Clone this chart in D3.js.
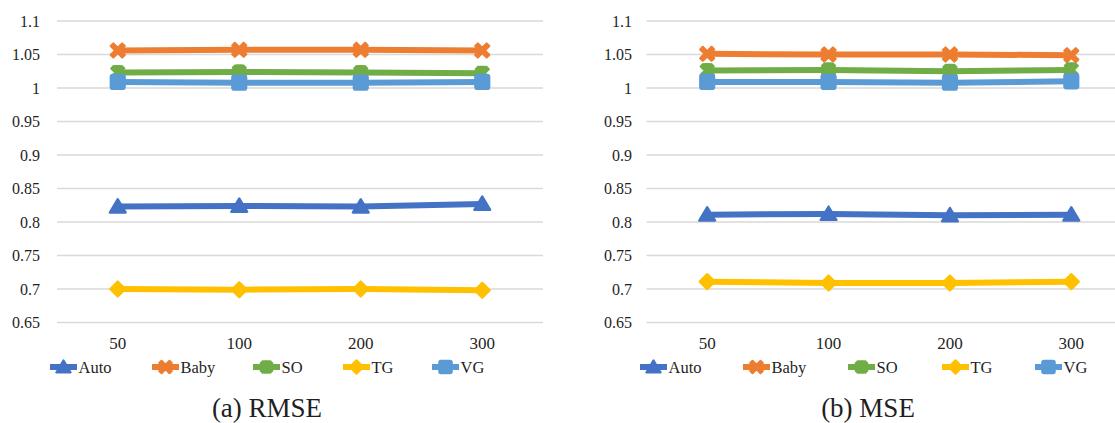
<!DOCTYPE html>
<html>
<head>
<meta charset="utf-8">
<script src="https://cdn.jsdelivr.net/npm/d3@7/dist/d3.min.js"></script>
<style>
  html, body { margin: 0; padding: 0; background: #fff; }
  svg { display: block; }
  text { font-family: "Liberation Serif", "Times New Roman", serif; fill: #1f1f1f; }
</style>
</head>
<body>
<svg id="chart" width="1115" height="423"></svg>
<script>
// Data
const categories = ["50", "100", "200", "300"];
const seriesNames = ["Auto", "Baby", "SO", "TG", "VG"];
const seriesColors = ["#4472C4", "#ED7D31", "#70AD47", "#FFC000", "#5B9BD5"];
const seriesMarkers = ["triangle", "x", "star", "diamond", "square"];
const yTicks = [0.65, 0.7, 0.75, 0.8, 0.85, 0.9, 0.95, 1, 1.05, 1.1];
const yTickLabels = ["0.65", "0.7", "0.75", "0.8", "0.85", "0.9", "0.95", "1", "1.05", "1.1"];

// RMSE per series across the four settings
const rmseAuto = [0.823, 0.824, 0.823, 0.827];
const rmseBaby = [1.056, 1.057, 1.057, 1.056];
const rmseSO   = [1.023, 1.024, 1.023, 1.022];
const rmseTG   = [0.700, 0.699, 0.700, 0.698];
const rmseVG   = [1.009, 1.008, 1.008, 1.009];

// MSE per series across the four settings
const mseAuto = [0.811, 0.812, 0.810, 0.811];
const mseBaby = [1.051, 1.050, 1.050, 1.049];
const mseSO   = [1.026, 1.027, 1.025, 1.027];
const mseTG   = [0.711, 0.709, 0.709, 0.711];
const mseVG   = [1.009, 1.009, 1.008, 1.010];

const panels = [
  { values: [rmseAuto, rmseBaby, rmseSO, rmseTG, rmseVG], caption: "(a) RMSE",
    left: 57, right: 543, labelX: 40, legendX: [50, 152, 253, 343, 432], captionX: 267 },
  { values: [mseAuto, mseBaby, mseSO, mseTG, mseVG], caption: "(b) MSE",
    left: 646.5, right: 1132, labelX: 632, legendX: [640, 743, 848, 942, 1035], captionX: 868 }
];

const svg = d3.select("#chart");
const yTop = 21, yBottom = 322.5;

// Marker outlines, centred on the origin, scaled by s
function markerPath(type, s) {
  const p = d3.path();
  if (type === "triangle") {
    p.moveTo(0, -7.5 * s); p.lineTo(8 * s, 6 * s); p.lineTo(-8 * s, 6 * s); p.closePath();
  } else if (type === "diamond") {
    p.moveTo(0, -7.5 * s); p.lineTo(7.5 * s, 0); p.lineTo(0, 7.5 * s); p.lineTo(-7.5 * s, 0); p.closePath();
  } else if (type === "square") {
    const h = 7 * s, r = 2 * s;
    p.moveTo(-h + r, -h); p.lineTo(h - r, -h); p.quadraticCurveTo(h, -h, h, -h + r);
    p.lineTo(h, h - r); p.quadraticCurveTo(h, h, h - r, h);
    p.lineTo(-h + r, h); p.quadraticCurveTo(-h, h, -h, h - r);
    p.lineTo(-h, -h + r); p.quadraticCurveTo(-h, -h, -h + r, -h); p.closePath();
  } else if (type === "x") {
    const a = 7 * s, w = 2.6 * s;
    p.moveTo(-a, -a + w); p.lineTo(-a + w, -a); p.lineTo(0, -w); p.lineTo(a - w, -a); p.lineTo(a, -a + w);
    p.lineTo(w, 0); p.lineTo(a, a - w); p.lineTo(a - w, a); p.lineTo(0, w); p.lineTo(-a + w, a);
    p.lineTo(-a, a - w); p.lineTo(-w, 0); p.closePath();
  } else if (type === "star") {
    const a = 6.5 * s, w = 2.4 * s;
    p.moveTo(-a, -a + w); p.lineTo(-a + w, -a); p.lineTo(0, -w); p.lineTo(a - w, -a); p.lineTo(a, -a + w);
    p.lineTo(w, 0); p.lineTo(a, a - w); p.lineTo(a - w, a); p.lineTo(0, w); p.lineTo(-a + w, a);
    p.lineTo(-a, a - w); p.lineTo(-w, 0); p.closePath();
    p.moveTo(-w, -a); p.lineTo(w, -a); p.lineTo(w, a); p.lineTo(-w, a); p.closePath();
  }
  return p.toString();
}

panels.forEach(panel => {
  const g = svg.append("g");
  const x = d3.scalePoint().domain(categories).range([panel.left, panel.right]).padding(0.5);
  const y = d3.scaleLinear().domain([0.65, 1.1]).range([yBottom, yTop]);

  // Horizontal gridlines
  g.append("g").selectAll("line").data(yTicks).join("line")
    .attr("x1", panel.left).attr("x2", panel.right)
    .attr("y1", d => y(d)).attr("y2", d => y(d))
    .attr("stroke", "#D9D9D9").attr("stroke-width", 1.3);

  // Y tick labels
  g.append("g").selectAll("text").data(yTicks).join("text")
    .attr("x", panel.labelX).attr("y", d => y(d) + 5.5)
    .attr("text-anchor", "end").attr("font-size", 16)
    .text((d, i) => yTickLabels[i]);

  // X tick labels
  g.append("g").selectAll("text").data(categories).join("text")
    .attr("x", d => x(d)).attr("y", 348.5)
    .attr("text-anchor", "middle").attr("font-size", 17)
    .text(d => d);

  const line = d3.line().x((d, i) => x(categories[i])).y(d => y(d));

  // Series lines and markers
  panel.values.forEach((vals, si) => {
    const color = seriesColors[si];
    g.append("path").datum(vals)
      .attr("d", line).attr("fill", "none")
      .attr("stroke", color).attr("stroke-width", 6)
      .attr("stroke-linejoin", "round");
    g.append("g").selectAll("path").data(vals).join("path")
      .attr("transform", (d, i) => `translate(${x(categories[i])},${y(d)})`)
      .attr("d", markerPath(seriesMarkers[si], 1))
      .attr("fill", color).attr("stroke", color).attr("stroke-width", 2.2)
      .attr("stroke-linejoin", "round");
  });

  // Legend
  const leg = g.append("g");
  seriesNames.forEach((name, si) => {
    const x0 = panel.legendX[si];
    const color = seriesColors[si];
    leg.append("line").attr("x1", x0).attr("x2", x0 + 27)
      .attr("y1", 367).attr("y2", 367)
      .attr("stroke", color).attr("stroke-width", 6);
    leg.append("path").attr("transform", `translate(${x0 + 13.5},367)`)
      .attr("d", markerPath(seriesMarkers[si], 0.9))
      .attr("fill", color).attr("stroke", color).attr("stroke-width", 2)
      .attr("stroke-linejoin", "round");
    leg.append("text").attr("x", x0 + 28.5).attr("y", 372.5)
      .attr("font-size", 16.5).text(name);
  });

  // Caption
  g.append("text").attr("x", panel.captionX).attr("y", 416.5)
    .attr("text-anchor", "middle").attr("font-size", 27)
    .attr("fill", "#141414").text(panel.caption);
});
</script>
</body>
</html>
